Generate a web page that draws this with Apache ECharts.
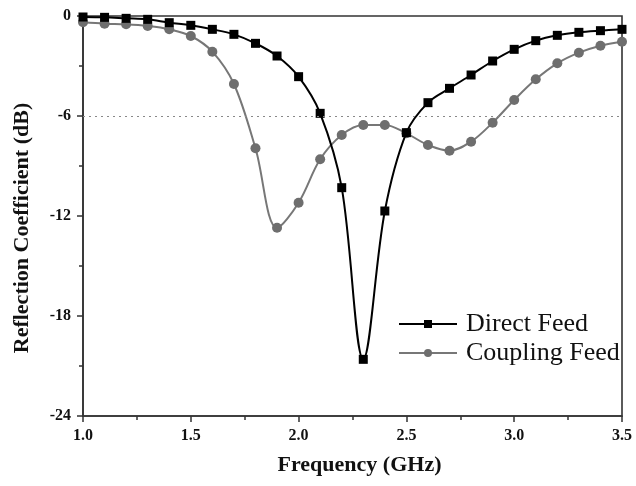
<!DOCTYPE html>
<html>
<head>
<meta charset="utf-8">
<script src="https://cdn.jsdelivr.net/npm/echarts@6/dist/echarts.min.js"></script>
<style>
html,body{margin:0;padding:0;background:#fff;}
#chart{width:636px;height:486px;}
</style>
</head>
<body>
<div id="chart"></div>
<script>
var freq = [1.0,1.1,1.2,1.3,1.4,1.5,1.6,1.7,1.8,1.9,2.0,2.1,2.2,2.3,2.4,2.5,2.6,2.7,2.8,2.9,3.0,3.1,3.2,3.3,3.4,3.5];
var directFeed = [-0.06,-0.08,-0.14,-0.2,-0.4,-0.56,-0.8,-1.1,-1.64,-2.4,-3.64,-5.84,-10.3,-20.6,-11.7,-7.0,-5.2,-4.34,-3.54,-2.7,-2.0,-1.48,-1.16,-0.98,-0.88,-0.8];
var couplingFeed = [-0.38,-0.46,-0.5,-0.6,-0.8,-1.2,-2.14,-4.08,-7.94,-12.7,-11.2,-8.6,-7.14,-6.54,-6.54,-7.04,-7.74,-8.08,-7.54,-6.4,-5.04,-3.8,-2.84,-2.2,-1.78,-1.54];
var seriesNames = ['Direct Feed','Coupling Feed'];
var xTicks = [1.0,1.5,2.0,2.5,3.0,3.5];
var yTicks = [0,-6,-12,-18,-24];
var refLevel = -6;

function pairs(xs, ys){ return xs.map(function(x,i){ return [x, ys[i]]; }); }

var serif = '"Liberation Serif","Times New Roman",serif';
var chart = echarts.init(document.getElementById('chart'), null, {renderer:'canvas'});
chart.setOption({
  animation:false,
  backgroundColor:'#fff',
  grid:{left:83,right:14,top:16,bottom:70,show:true,borderColor:'#333',borderWidth:1.6,containLabel:false},
  legend:{
    orient:'vertical', left:393, top:306, itemGap:3,
    itemWidth:58, itemHeight:10,
    textStyle:{fontFamily:serif,fontSize:26,color:'#111',padding:[0,0,0,4]},
    data:seriesNames
  },
  xAxis:{
    type:'value', min:1.0, max:3.5, interval:0.5,
    name:'Frequency (GHz)', nameLocation:'middle', nameGap:38,
    nameTextStyle:{fontFamily:serif,fontSize:22,fontWeight:'bold',color:'#111',padding:[0,0,0,14]},
    axisLine:{show:true,onZero:false,lineStyle:{color:'#333',width:1.6}},
    axisTick:{show:true,inside:false,length:6,lineStyle:{color:'#333',width:1.5}},
    minorTick:{show:true,splitNumber:2,length:4,lineStyle:{color:'#333',width:1.5}},
    axisLabel:{fontFamily:serif,fontSize:16,fontWeight:'bold',color:'#111',margin:12,
      formatter:function(v){ return xTicks.indexOf(Math.round(v*10)/10)>=0 ? v.toFixed(1) : ''; }},
    splitLine:{show:false}
  },
  yAxis:{
    type:'value', min:-24, max:0, interval:6,
    name:'Reflection Coefficient (dB)', nameLocation:'middle', nameGap:50, nameRotate:90,
    nameTextStyle:{fontFamily:serif,fontSize:22,fontWeight:'bold',color:'#111',padding:[0,24,0,0]},
    axisLine:{show:true,onZero:false,lineStyle:{color:'#333',width:1.6}},
    axisTick:{show:true,inside:false,length:6,lineStyle:{color:'#333',width:1.5}},
    minorTick:{show:true,splitNumber:2,length:4,lineStyle:{color:'#333',width:1.5}},
    axisLabel:{fontFamily:serif,fontSize:16,fontWeight:'bold',color:'#111',margin:12,
      formatter:function(v){ return yTicks.indexOf(v)>=0 ? String(v) : ''; }},
    splitLine:{show:false}
  },
  series:[
    {
      name:seriesNames[1], type:'line', data:pairs(freq,couplingFeed), smooth:0.35,
      symbol:'circle', symbolSize:10,
      itemStyle:{color:'#6e6e6e'},
      lineStyle:{color:'#777',width:2},
      z:2,
      markLine:{silent:true,symbol:'none',label:{show:false},
        lineStyle:{color:'#888',type:[2,4],width:1.2},
        data:[{yAxis:refLevel}]}
    },
    {
      name:seriesNames[0], type:'line', data:pairs(freq,directFeed), smooth:0.35,
      symbol:'rect', symbolSize:9,
      itemStyle:{color:'#000'},
      lineStyle:{color:'#000',width:2},
      z:3
    }
  ]
});
</script>
</body>
</html>
